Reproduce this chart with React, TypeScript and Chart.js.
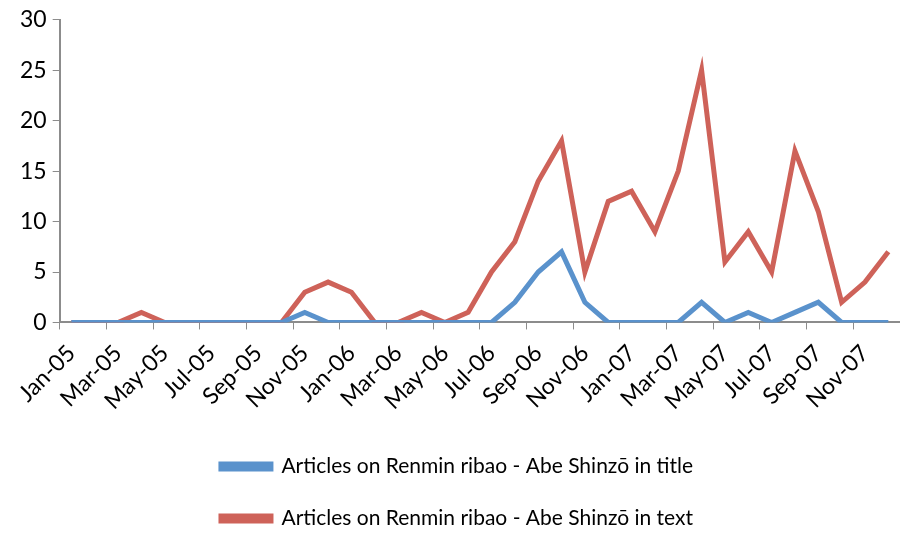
import React, { useEffect, useRef } from "react";
import { Chart, registerables } from "chart.js";

Chart.register(...registerables);

const months = [
  "Jan-05", "Feb-05", "Mar-05", "Apr-05", "May-05", "Jun-05", "Jul-05", "Aug-05", "Sep-05", "Oct-05", "Nov-05", "Dec-05",
  "Jan-06", "Feb-06", "Mar-06", "Apr-06", "May-06", "Jun-06", "Jul-06", "Aug-06", "Sep-06", "Oct-06", "Nov-06", "Dec-06",
  "Jan-07", "Feb-07", "Mar-07", "Apr-07", "May-07", "Jun-07", "Jul-07", "Aug-07", "Sep-07", "Oct-07", "Nov-07", "Dec-07",
];

const inTitle = [
  0, 0, 0, 0, 0, 0, 0, 0, 0, 0, 1, 0,
  0, 0, 0, 0, 0, 0, 0, 2, 5, 7, 2, 0,
  0, 0, 0, 2, 0, 1, 0, 1, 2, 0, 0, 0,
];

const inText = [
  0, 0, 0, 1, 0, 0, 0, 0, 0, 0, 3, 4,
  3, 0, 0, 1, 0, 1, 5, 8, 14, 18, 5, 12,
  13, 9, 15, 25, 6, 9, 5, 17, 11, 2, 4, 7,
];

const seriesNames = [
  "Articles on Renmin ribao - Abe Shinzō in title",
  "Articles on Renmin ribao - Abe Shinzō in text",
];

const BLUE = "#5A92CC";
const RED = "#CE6259";
const AXIS = "#8C8C8C";
const FONT = "Lato, 'Open Sans', sans-serif";

export default function App() {
  const ref = useRef<HTMLCanvasElement | null>(null);

  useEffect(() => {
    document.body.style.margin = "0";
    const ctx = ref.current!.getContext("2d")!;
    const chart = new Chart(ctx, {
      type: "line",
      data: {
        labels: months,
        datasets: [
          {
            label: seriesNames[0],
            data: inTitle,
            borderColor: BLUE,
            backgroundColor: BLUE,
            borderWidth: 5,
            pointRadius: 0,
            tension: 0,
          },
          {
            label: seriesNames[1],
            data: inText,
            borderColor: RED,
            backgroundColor: RED,
            borderWidth: 5,
            pointRadius: 0,
            tension: 0,
          },
        ],
      },
      options: {
        responsive: false,
        animation: false,
        layout: { padding: { left: 14, right: 0, top: 2, bottom: -6 } },
        plugins: {
          tooltip: { enabled: false },
          legend: {
            position: "bottom",
            labels: {
              color: "#000",
              font: { family: FONT, size: 21 },
              boxWidth: 50,
              boxHeight: 5,
              padding: 31,
            },
          },
        },
        scales: {
          x: {
            offset: true,
            afterFit: (s: any) => {
              s.paddingRight = 0;
            },
            grid: {
              offset: true,
              drawOnChartArea: false,
              tickLength: 7,
              color: (c: any) => (c.index % 2 === 0 ? AXIS : "rgba(0,0,0,0)"),
            },
            border: { color: AXIS, width: 2 },
            ticks: {
              autoSkip: false,
              maxRotation: 45,
              minRotation: 45,
              padding: 10,
              color: "#000",
              font: { family: FONT, size: 23 },
              callback: (_v: any, i: number) => (i % 2 === 0 ? months[i] : ""),
            },
          },
          y: {
            min: 0,
            max: 30,
            ticks: {
              stepSize: 5,
              color: "#000",
              font: { family: FONT, size: 23 },
              padding: 6,
            },
            grid: { drawOnChartArea: false, tickLength: 7, color: AXIS },
            border: { color: AXIS, width: 2 },
          },
        },
      },
    });
    return () => chart.destroy();
  }, []);

  return <canvas ref={ref} width={900} height={533} style={{ display: "block" }} />;
}
